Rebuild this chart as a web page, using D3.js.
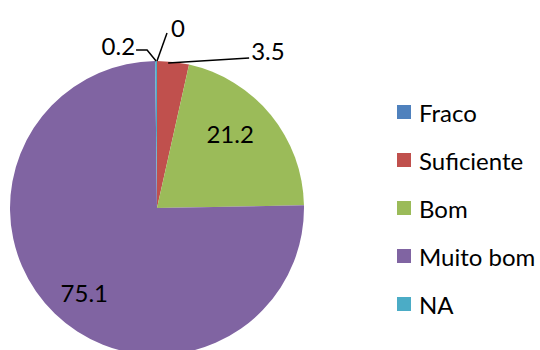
<!DOCTYPE html>
<html>
<head>
<meta charset="utf-8">
<script src="https://cdn.jsdelivr.net/npm/d3@7"></script>
<style>
  html, body { margin: 0; padding: 0; background: #fff; }
  svg { display: block; }
  text { font-family: "Lato", "Open Sans", sans-serif; fill: #000; }
</style>
</head>
<body>
<svg id="chart" width="540" height="350"></svg>
<script>
// Rating distribution (percent)
const categories = ["Fraco", "Suficiente", "Bom", "Muito bom", "NA"];
const values = [0, 3.5, 21.2, 75.1, 0.2];
const valueLabels = ["0", "3.5", "21.2", "75.1", "0.2"];
const colors = ["#4F81BD", "#C0504D", "#9BBB59", "#8064A2", "#4BACC6"];

const svg = d3.select("#chart");
const cx = 157, cy = 208, R = 147;
const fontSize = 24;

const data = categories.map((c, i) => ({ name: c, value: values[i], label: valueLabels[i], color: colors[i] }));

const pie = d3.pie().sort(null).value(d => d.value);
const arcs = pie(data);
const arc = d3.arc().innerRadius(0).outerRadius(R);
const labelArc = d3.arc().innerRadius(R * 0.73).outerRadius(R * 0.73);

const g = svg.append("g").attr("transform", `translate(${cx},${cy})`);

g.selectAll("path.slice")
  .data(arcs.filter(a => a.value > 0))
  .join("path")
  .attr("class", "slice")
  .attr("d", arc)
  .attr("fill", d => d.data.color);

// Large slices are labelled inside, with a small per-slice nudge
const innerNudge = { "Bom": [-10, -7], "Muito bom": [2, 7] };
g.selectAll("text.inner")
  .data(arcs.filter(a => a.value > 10))
  .join("text")
  .attr("class", "inner")
  .attr("transform", d => {
    const [x, y] = labelArc.centroid(d);
    const n = innerNudge[d.data.name] || [0, 0];
    return `translate(${x + n[0]},${y + n[1]})`;
  })
  .attr("text-anchor", "middle")
  .attr("dominant-baseline", "central")
  .attr("font-size", fontSize)
  .text(d => d.data.label);

// Small slices get callouts with leader lines
const edge = a => {
  const m = (a.startAngle + a.endAngle) / 2;
  return [R * Math.sin(m), -R * Math.cos(m)];
};
const callouts = {
  "Fraco":      { pts: p => [p, [p[0] + 10, p[1] - 28]], text: [14, -34], anchor: "start" },
  "Suficiente": { pts: p => [[p[0] - 5, p[1] + 1], [p[0] + 76, p[1] - 4]], text: [78, -11], anchor: "start" },
  "NA":         { pts: p => [p, [p[0] - 9, p[1] - 11], [p[0] - 20, p[1] - 11]], text: [-21, -16], anchor: "end" }
};
arcs.filter(a => a.value <= 10).forEach(a => {
  const c = callouts[a.data.name];
  const p = edge(a);
  g.append("path")
    .attr("d", d3.line()(c.pts(p)))
    .attr("fill", "none")
    .attr("stroke", "#000")
    .attr("stroke-width", 1.5);
  g.append("text")
    .attr("x", p[0] + c.text[0])
    .attr("y", p[1] + c.text[1])
    .attr("text-anchor", c.anchor)
    .attr("dominant-baseline", "central")
    .attr("font-size", fontSize)
    .text(a.data.label);
});

// Legend
const legend = svg.append("g").attr("transform", "translate(397,112)");
const rows = legend.selectAll("g")
  .data(data)
  .join("g")
  .attr("transform", (d, i) => `translate(0,${i * 48})`);
rows.append("rect")
  .attr("x", 0).attr("y", -7)
  .attr("width", 14).attr("height", 14)
  .attr("fill", d => d.color);
rows.append("text")
  .attr("x", 22).attr("y", 0)
  .attr("dominant-baseline", "central")
  .attr("font-size", fontSize)
  .text(d => d.name);
</script>
</body>
</html>
